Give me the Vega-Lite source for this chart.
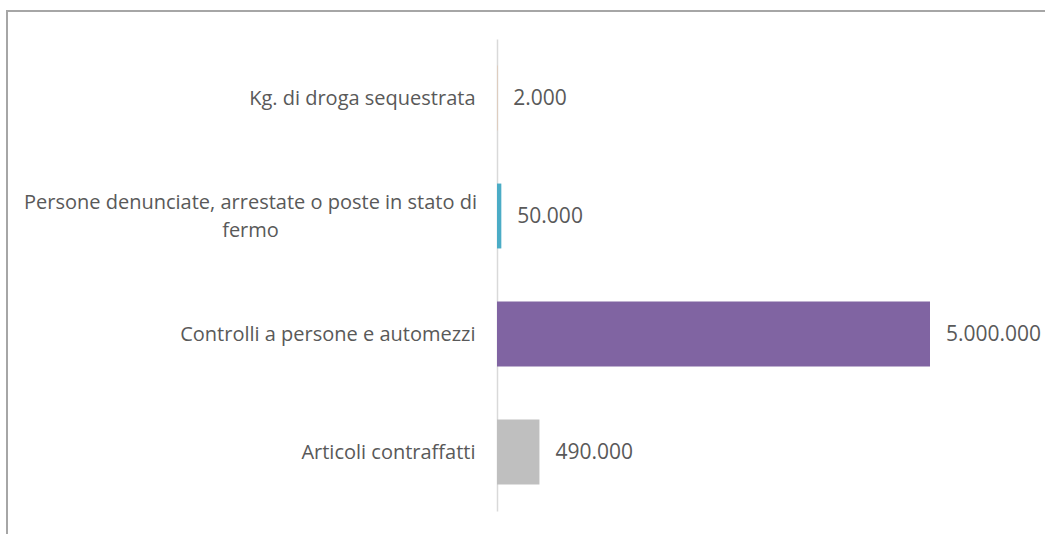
{
  "$schema": "https://vega.github.io/schema/vega-lite/v6.json",
  "width": 1045,
  "height": 530,
  "padding": {"left": 7, "top": 11, "right": 0, "bottom": 0},
  "autosize": {"type": "none"},
  "background": "white",
  "config": {
    "view": {"stroke": "#a6a6a6", "strokeWidth": 2},
    "locale": {"number": {"decimal": ",", "thousands": ".", "grouping": [3], "currency": ["€", ""]}}
  },
  "data": {
    "values": [
      {"cat": "Kg. di droga sequestrata", "value": 2000},
      {"cat": "Persone denunciate, arrestate o poste in stato di fermo", "value": 50000},
      {"cat": "Controlli a persone e automezzi", "value": 5000000},
      {"cat": "Articoli contraffatti", "value": 490000}
    ]
  },
  "encoding": {
    "y": {
      "field": "cat",
      "type": "nominal",
      "sort": null,
      "scale": {"range": [28, 500], "paddingInner": 0.45, "paddingOuter": 0.225},
      "axis": {
        "title": null,
        "offset": -490,
        "ticks": false,
        "domainColor": "#d9d9d9",
        "domainWidth": 1.5,
        "labelColor": "#595959",
        "labelFont": "Open Sans",
        "labelFontSize": 20,
        "labelLimit": 0,
        "labelLineHeight": 28,
        "labelExpr": "datum.value == 'Persone denunciate, arrestate o poste in stato di fermo' ? ['Persone denunciate, arrestate o poste in stato di', 'fermo'] : datum.value",
        "labelAlign": {"condition": {"test": "datum.value == 'Persone denunciate, arrestate o poste in stato di fermo'", "value": "center"}, "value": "right"},
        "labelPadding": {"condition": {"test": "datum.value == 'Persone denunciate, arrestate o poste in stato di fermo'", "value": 247}, "value": 22},
        "labelOffset": {"condition": {"test": "datum.value == 'Persone denunciate, arrestate o poste in stato di fermo'", "value": -13}, "value": 1}
      }
    }
  },
  "layer": [
    {
      "mark": {"type": "bar"},
      "encoding": {
        "x": {"field": "value", "type": "quantitative", "scale": {"domain": [-5658199, 6408776], "nice": false, "zero": false}, "axis": null},
        "x2": {"datum": 0},
        "color": {
          "field": "cat",
          "type": "nominal",
          "scale": {
            "domain": ["Kg. di droga sequestrata", "Persone denunciate, arrestate o poste in stato di fermo", "Controlli a persone e automezzi", "Articoli contraffatti"],
            "range": ["#f79646", "#4bacc6", "#8064a2", "#bfbfbf"]
          },
          "legend": null
        }
      }
    },
    {
      "mark": {"type": "text", "align": "left", "baseline": "middle", "dx": 16, "dy": 1, "font": "Open Sans", "fontSize": 21, "color": "#595959"},
      "encoding": {
        "x": {"field": "value", "type": "quantitative"},
        "text": {"field": "value", "type": "quantitative", "format": ",.0f"}
      }
    }
  ]
}
